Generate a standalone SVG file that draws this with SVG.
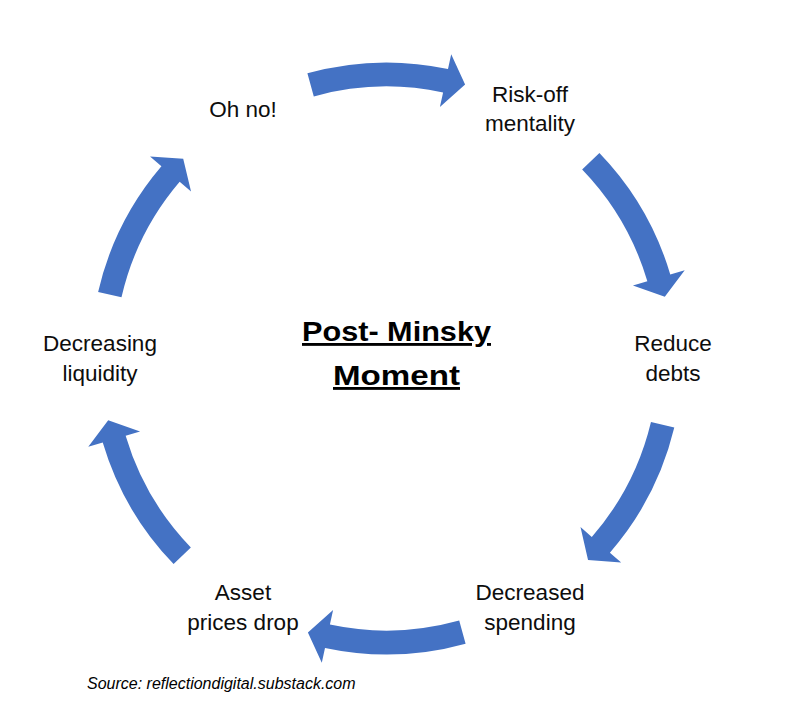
<svg xmlns="http://www.w3.org/2000/svg" xmlns:xlink="http://www.w3.org/1999/xlink" width="798" height="717" viewBox="0 0 798 717">
<style>
.lbl{font-family:"Liberation Sans",Arial,sans-serif;font-size:22.5px;fill:#0d0d0d;text-anchor:middle}
.title{font-family:"Liberation Sans",Arial,sans-serif;font-size:28.5px;font-weight:bold;fill:#000;text-anchor:middle;text-decoration:underline}
.src{font-family:"Liberation Sans",Arial,sans-serif;font-size:16px;font-style:italic;fill:#000}
.arr{fill:#4472C4}
</style>
<defs>
<path id="arc" d="M -79.1,-285.2 A 296 296 0 0 1 61.5,-289.5 L 64.7,-304.2 L 78.6,-274.0 L 53.4,-251.4 L 56.6,-266.1 A 272 272 0 0 0 -72.7,-262.1 Z"/>
</defs>
<rect width="798" height="717" fill="#fff"/>
<g id="connectors" class="arr">
<use xlink:href="#arc" transform="translate(386.5 358.5)"/>
<use xlink:href="#arc" transform="translate(386.5 358.5) rotate(61.5)"/>
<use xlink:href="#arc" transform="translate(386.5 358.5) rotate(119)"/>
<use xlink:href="#arc" transform="translate(386.5 358.5) rotate(180)"/>
<use xlink:href="#arc" transform="translate(386.5 358.5) rotate(241.5)"/>
<use xlink:href="#arc" transform="translate(386.5 358.5) rotate(298.5)"/>
</g>
<g id="node-ohno"><text class="lbl" x="243" y="117">Oh no!</text></g>
<g id="node-riskoff"><text class="lbl" x="530" y="101.5">Risk-off</text><text class="lbl" x="530" y="131">mentality</text></g>
<g id="node-reduce"><text class="lbl" x="673" y="351">Reduce</text><text class="lbl" x="673" y="380.5">debts</text></g>
<g id="node-decreased"><text class="lbl" x="530" y="600">Decreased</text><text class="lbl" x="530" y="629.5">spending</text></g>
<g id="node-asset"><text class="lbl" x="243" y="600">Asset</text><text class="lbl" x="243" y="629.5">prices drop</text></g>
<g id="node-liquidity"><text class="lbl" x="100" y="351">Decreasing</text><text class="lbl" x="100" y="380.5">liquidity</text></g>
<g id="title"><text class="title" x="396.5" y="341" textLength="189" lengthAdjust="spacingAndGlyphs">Post- Minsky</text><text class="title" x="396.5" y="385" textLength="127" lengthAdjust="spacingAndGlyphs">Moment</text></g>
<text class="src" x="87" y="689">Source: reflectiondigital.substack.com</text>
</svg>
